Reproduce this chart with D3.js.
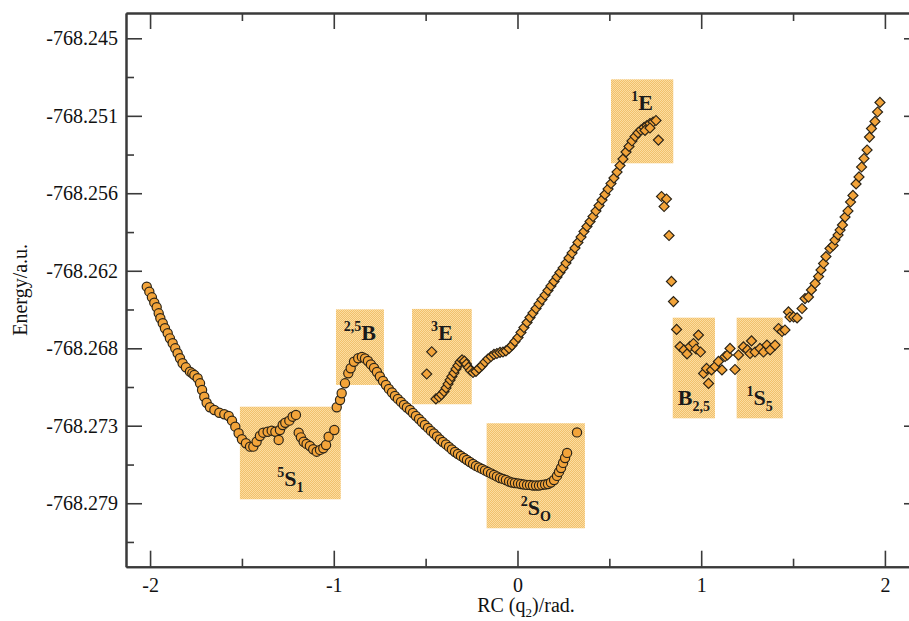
<!DOCTYPE html>
<html>
<head>
<meta charset="utf-8">
<script src="https://cdn.jsdelivr.net/npm/d3@7"></script>
<style>
  body { margin: 0; background: #fff; }
  svg { display: block; }
</style>
</head>
<body>
<div id="chart"></div>
<script>
// circles: [RC (rad), Energy (a.u.)]
const circleSeries = [
  [-2.018, -768.26316], [-2.004, -768.26353], [-1.990, -768.26394], [-1.977, -768.26433],
  [-1.964, -768.26467], [-1.953, -768.26511], [-1.944, -768.26547], [-1.931, -768.26584],
  [-1.919, -768.26620], [-1.904, -768.26657], [-1.892, -768.26694], [-1.877, -768.26730],
  [-1.863, -768.26767], [-1.850, -768.26803], [-1.837, -768.26840], [-1.823, -768.26876],
  [-1.805, -768.26906], [-1.783, -768.26938], [-1.770, -768.26950], [-1.759, -768.26962],
  [-1.741, -768.26986], [-1.728, -768.27023], [-1.717, -768.27072], [-1.705, -768.27121],
  [-1.692, -768.27165], [-1.674, -768.27198], [-1.650, -768.27218], [-1.623, -768.27238],
  [-1.596, -768.27249], [-1.572, -768.27262], [-1.554, -768.27296], [-1.536, -768.27340],
  [-1.518, -768.27388], [-1.500, -768.27432], [-1.478, -768.27461], [-1.456, -768.27486],
  [-1.438, -768.27486], [-1.420, -768.27450], [-1.402, -768.27408], [-1.384, -768.27384],
  [-1.360, -768.27377], [-1.338, -768.27369], [-1.318, -768.27377], [-1.300, -768.27437],
  [-1.293, -768.27364], [-1.278, -768.27328], [-1.264, -768.27311], [-1.242, -768.27296],
  [-1.224, -768.27267], [-1.206, -768.27254], [-1.191, -768.27384], [-1.179, -768.27418],
  [-1.164, -768.27450], [-1.148, -768.27466], [-1.130, -768.27481], [-1.112, -768.27505],
  [-1.093, -768.27523], [-1.075, -768.27510], [-1.057, -768.27498], [-1.042, -768.27474],
  [-1.028, -768.27413], [-0.997, -768.27364], [-0.984, -768.27198], [-0.966, -768.27145],
  [-0.957, -768.27096], [-0.939, -768.27023], [-0.921, -768.26950], [-0.908, -768.26913],
  [-0.890, -768.26865], [-0.867, -768.26840],
  [-0.847, -768.26830], [-0.830, -768.26841], [-0.814, -768.26860], [-0.798, -768.26885],
  [-0.781, -768.26911], [-0.765, -768.26940], [-0.749, -768.26973], [-0.732, -768.27006],
  [-0.716, -768.27035], [-0.700, -768.27064], [-0.683, -768.27090], [-0.667, -768.27116],
  [-0.651, -768.27137], [-0.634, -768.27159], [-0.618, -768.27181], [-0.602, -768.27200],
  [-0.585, -768.27218], [-0.569, -768.27240], [-0.553, -768.27262], [-0.536, -768.27284],
  [-0.520, -768.27306], [-0.504, -768.27328], [-0.487, -768.27349], [-0.471, -768.27371],
  [-0.455, -768.27390], [-0.438, -768.27412], [-0.422, -768.27434], [-0.406, -768.27452],
  [-0.389, -768.27470], [-0.373, -768.27488], [-0.357, -768.27507], [-0.340, -768.27525],
  [-0.324, -768.27540], [-0.308, -768.27554], [-0.291, -768.27569], [-0.275, -768.27584],
  [-0.259, -768.27598], [-0.242, -768.27613], [-0.226, -768.27627], [-0.210, -768.27638],
  [-0.193, -768.27649], [-0.177, -768.27660], [-0.161, -768.27671], [-0.144, -768.27682],
  [-0.128, -768.27693], [-0.112, -768.27704], [-0.095, -768.27715], [-0.079, -768.27722],
  [-0.063, -768.27730], [-0.046, -768.27741], [-0.030, -768.27748], [-0.014, -768.27752],
  [0.003, -768.27755], [0.019, -768.27759], [0.035, -768.27763], [0.052, -768.27766],
  [0.068, -768.27766], [0.084, -768.27770], [0.101, -768.27770], [0.117, -768.27770],
  [0.133, -768.27766], [0.150, -768.27763], [0.166, -768.27759], [0.182, -768.27748],
  [0.199, -768.27730], [0.215, -768.27700], [0.226, -768.27671], [0.237, -768.27642],
  [0.248, -768.27605], [0.259, -768.27569], [0.270, -768.27532], [0.324, -768.27382]
];

// diamonds: [RC (rad), Energy (a.u.)]
const diamondSeries = [
  [-0.494, -768.26955], [-0.467, -768.26792],
  [-0.444, -768.27137], [-0.427, -768.27123], [-0.414, -768.27105], [-0.400, -768.27083],
  [-0.389, -768.27057], [-0.378, -768.27028], [-0.367, -768.26999], [-0.357, -768.26973],
  [-0.346, -768.26947], [-0.335, -768.26918], [-0.324, -768.26893], [-0.313, -768.26867],
  [-0.302, -768.26852], [-0.289, -768.26860], [-0.278, -768.26882], [-0.267, -768.26907],
  [-0.256, -768.26929], [-0.242, -768.26944], [-0.226, -768.26936], [-0.210, -768.26914],
  [-0.193, -768.26893], [-0.177, -768.26867], [-0.161, -768.26845], [-0.144, -768.26827],
  [-0.128, -768.26812], [-0.112, -768.26805], [-0.095, -768.26797], [-0.079, -768.26794],
  [-0.063, -768.26786], [-0.046, -768.26768], [-0.030, -768.26746], [-0.014, -768.26717],
  [0.003, -768.26688], [0.019, -768.26651], [0.035, -768.26615], [0.052, -768.26578],
  [0.068, -768.26542], [0.084, -768.26509], [0.101, -768.26476], [0.117, -768.26443],
  [0.133, -768.26410], [0.150, -768.26377], [0.166, -768.26344], [0.182, -768.26311],
  [0.199, -768.26278], [0.215, -768.26245], [0.231, -768.26213], [0.248, -768.26180],
  [0.264, -768.26143], [0.280, -768.26106], [0.297, -768.26070], [0.313, -768.26033],
  [0.329, -768.25993], [0.346, -768.25953], [0.362, -768.25913], [0.378, -768.25876],
  [0.395, -768.25840], [0.411, -768.25803], [0.427, -768.25763], [0.444, -768.25723],
  [0.460, -768.25682], [0.476, -768.25642], [0.493, -768.25602], [0.509, -768.25562],
  [0.525, -768.25522], [0.542, -768.25478], [0.558, -768.25430], [0.574, -768.25383],
  [0.591, -768.25331], [0.607, -768.25291], [0.623, -768.25251], [0.640, -768.25218],
  [0.656, -768.25192], [0.672, -768.25171], [0.689, -768.25152], [0.705, -768.25138],
  [0.721, -768.25123], [0.738, -768.25112], [0.754, -768.25101], [0.694, -768.25174],
  [0.721, -768.25156], [0.767, -768.25244],
  [0.784, -768.25657], [0.811, -768.25675], [0.798, -768.25730], [0.825, -768.25942],
  [0.838, -768.26278], [0.849, -768.26425], [0.866, -768.26629],
  [0.885, -768.26754], [0.906, -768.26779], [0.923, -768.26808], [0.939, -768.26754],
  [0.958, -768.26732], [0.985, -768.26670], [0.972, -768.26772], [0.996, -768.26794],
  [1.013, -768.26951], [1.040, -768.27024], [1.029, -768.26914], [1.056, -768.26925],
  [1.075, -768.26900], [1.094, -768.26863], [1.113, -768.26925], [1.130, -768.26827],
  [1.143, -768.26816], [1.157, -768.26768], [1.184, -768.26922], [1.203, -768.26816],
  [1.230, -768.26757], [1.252, -768.26779], [1.274, -768.26713], [1.266, -768.26805],
  [1.293, -768.26794], [1.320, -768.26768], [1.339, -768.26794], [1.358, -768.26743],
  [1.375, -768.26779], [1.402, -768.26743], [1.421, -768.26622], [1.440, -768.26644],
  [1.456, -768.26633], [1.475, -768.26501], [1.483, -768.26538], [1.503, -768.26538],
  [1.522, -768.26545], [1.549, -768.26476], [1.565, -768.26403], [1.584, -768.26392],
  [1.600, -768.26340], [1.620, -768.26293], [1.639, -768.26242], [1.652, -768.26194],
  [1.666, -768.26147], [1.679, -768.26096], [1.701, -768.26037], [1.718, -768.26015],
  [1.728, -768.25975], [1.745, -768.25938], [1.756, -768.25902], [1.769, -768.25865],
  [1.783, -768.25807], [1.799, -768.25763], [1.813, -768.25697], [1.826, -768.25649],
  [1.843, -768.25565], [1.859, -768.25514], [1.873, -768.25441], [1.886, -768.25379],
  [1.903, -768.25317], [1.916, -768.25222], [1.927, -768.25160], [1.946, -768.25108],
  [1.960, -768.25039], [1.973, -768.24969]
];

const xTicks = [-2, -1, 0, 1, 2];
const xMinorTicks = [-1.5, -0.5, 0.5, 1.5];
const yTicks = [-768.245, -768.25067, -768.25633, -768.262, -768.26767, -768.27333, -768.279];
const yMinorTicks = [-768.24783, -768.2535, -768.25917, -768.26483, -768.2705, -768.27617, -768.28183];

// conformer regions: RC range, energy range, label pieces
const regions = [
  { x0: -1.511, x1: -0.962, e0: -768.27194, e1: -768.27871, at: 'bottom', label: [['5', 'sup'], ['S', 'main'], ['1', 'sub']] },
  { x0: -0.988, x1: -0.727, e0: -768.26482, e1: -768.27035, at: 'top', label: [['2,5', 'sup'], ['B', 'main']] },
  { x0: -0.574, x1: -0.249, e0: -768.26479, e1: -768.27176, at: 'top', label: [['3', 'sup'], ['E', 'main']] },
  { x0: -0.168, x1: 0.367, e0: -768.27315, e1: -768.28083, at: 'bottom', label: [['2', 'sup'], ['S', 'main'], ['O', 'sub']] },
  { x0: 0.509, x1: 0.848, e0: -768.24800, e1: -768.25414, at: 'top', label: [['1', 'sup'], ['E', 'main']] },
  { x0: 0.845, x1: 1.075, e0: -768.26543, e1: -768.27279, at: 'bottom', label: [['B', 'main'], ['2,5', 'sub']] },
  { x0: 1.193, x1: 1.444, e0: -768.26543, e1: -768.27279, at: 'bottom', label: [['1', 'sup'], ['S', 'main'], ['5', 'sub']] }
];

const W = 909, H = 621;
const margin = { top: 13, left: 126, bottom: 54.3, right: -11 };
const width = W - margin.left - margin.right;
const height = H - margin.top - margin.bottom;

const svg = d3.select('#chart').append('svg')
  .attr('width', W).attr('height', H)
  .style('font-family', '"Liberation Serif", "Times New Roman", serif');

// dithered fill like the original bitmap boxes
const defs = svg.append('defs');
const pat = defs.append('pattern').attr('id', 'dither')
  .attr('width', 2).attr('height', 2).attr('patternUnits', 'userSpaceOnUse');
pat.append('rect').attr('width', 2).attr('height', 2).attr('fill', '#fcdda0');
pat.append('rect').attr('width', 1).attr('height', 1).attr('fill', '#f1c06c');
pat.append('rect').attr('x', 1).attr('y', 1).attr('width', 1).attr('height', 1).attr('fill', '#f1c06c');

const g = svg.append('g').attr('transform', `translate(${margin.left},${margin.top})`);

const x = d3.scaleLinear().domain([-2.131, 2.191]).range([0, width]);
const y = d3.scaleLinear().domain([-768.28364, -768.24315]).range([height, 0]);

// shaded regions
g.selectAll('rect.region').data(regions).join('rect')
  .attr('class', 'region')
  .attr('x', d => x(d.x0))
  .attr('y', d => y(d.e0))
  .attr('width', d => x(d.x1) - x(d.x0))
  .attr('height', d => y(d.e1) - y(d.e0))
  .attr('fill', 'url(#dither)');

// axes (plain hyphen for the minus sign, as in the original)
const hy = f => d => f(d).replace('\u2212', '-');

function styleAxis(sel) {
  sel.select('.domain').attr('stroke', '#3a3a3a').attr('stroke-width', 2);
  sel.selectAll('.tick line').attr('stroke', '#3a3a3a').attr('stroke-width', 1.6);
  sel.selectAll('.tick text').attr('fill', '#111').style('font-size', '20px')
    .style('font-family', '"Liberation Serif", "Times New Roman", serif');
}

g.append('g').attr('transform', `translate(0,${height})`)
  .call(d3.axisBottom(x).tickValues(xTicks).tickSize(-16).tickSizeOuter(0).tickPadding(11).tickFormat(hy(d3.format('d'))))
  .call(styleAxis);
g.append('g').attr('transform', `translate(0,${height})`)
  .call(d3.axisBottom(x).tickValues(xMinorTicks).tickSize(-8).tickSizeOuter(0).tickFormat(''))
  .call(styleAxis);
g.append('g')
  .call(d3.axisTop(x).tickValues(xTicks).tickSize(-16).tickSizeOuter(0).tickFormat(''))
  .call(styleAxis);
g.append('g')
  .call(d3.axisTop(x).tickValues(xMinorTicks).tickSize(-8).tickSizeOuter(0).tickFormat(''))
  .call(styleAxis);

g.append('g')
  .call(d3.axisLeft(y).tickValues(yTicks).tickSize(-16).tickSizeOuter(0).tickPadding(8).tickFormat(hy(d3.format('.3f'))))
  .call(styleAxis);
g.append('g')
  .call(d3.axisLeft(y).tickValues(yMinorTicks).tickSize(-8).tickSizeOuter(0).tickFormat(''))
  .call(styleAxis);
g.append('g').attr('transform', `translate(${width},0)`)
  .call(d3.axisRight(y).tickValues(yTicks).tickSize(-16).tickSizeOuter(0).tickFormat(''))
  .call(styleAxis);
g.append('g').attr('transform', `translate(${width},0)`)
  .call(d3.axisRight(y).tickValues(yMinorTicks).tickSize(-8).tickSizeOuter(0).tickFormat(''))
  .call(styleAxis);

// axis titles
g.append('text')
  .attr('transform', `translate(-99,${height / 2}) rotate(-90)`)
  .attr('text-anchor', 'middle')
  .style('font-size', '20px').attr('fill', '#111')
  .text('Energy/a.u.');

const xt = g.append('text')
  .attr('x', width / 2 + 3).attr('y', height + 45)
  .attr('text-anchor', 'middle')
  .style('font-size', '20px').attr('fill', '#111');
xt.append('tspan').text('RC (q');
xt.append('tspan').attr('dy', 5).style('font-size', '13px').text('2');
xt.append('tspan').attr('dy', -5).text(')/rad.');

// markers
const markerFill = '#f3a43a', markerStroke = '#2b2417';

g.selectAll('circle.pt').data(circleSeries).join('circle')
  .attr('class', 'pt')
  .attr('cx', d => x(d[0]))
  .attr('cy', d => y(d[1]))
  .attr('r', 4.6)
  .attr('fill', markerFill)
  .attr('stroke', markerStroke)
  .attr('stroke-width', 1.2);

const diamond = d3.symbol().type(d3.symbolSquare).size(50);
g.selectAll('path.dm').data(diamondSeries).join('path')
  .attr('class', 'dm')
  .attr('d', diamond)
  .attr('transform', d => `translate(${x(d[0])},${y(d[1])}) rotate(45)`)
  .attr('fill', markerFill)
  .attr('stroke', markerStroke)
  .attr('stroke-width', 1.2);

// region labels
const shift = { sup: -9, main: 0, sub: 6 };
const size = { sup: 14, main: 22, sub: 14 };
regions.forEach(r => {
  const cx = (x(r.x0) + x(r.x1)) / 2;
  const by = r.at === 'top' ? y(r.e0) + 31 : y(r.e1) - 13;
  const t = g.append('text')
    .attr('x', cx).attr('y', by)
    .attr('text-anchor', 'middle')
    .style('font-weight', 'bold')
    .attr('fill', '#1a1a1a');
  let prev = 0;
  r.label.forEach(([txt, kind]) => {
    t.append('tspan')
      .attr('dy', shift[kind] - prev)
      .style('font-size', size[kind] + 'px')
      .text(txt);
    prev = shift[kind];
  });
});
</script>
</body>
</html>
